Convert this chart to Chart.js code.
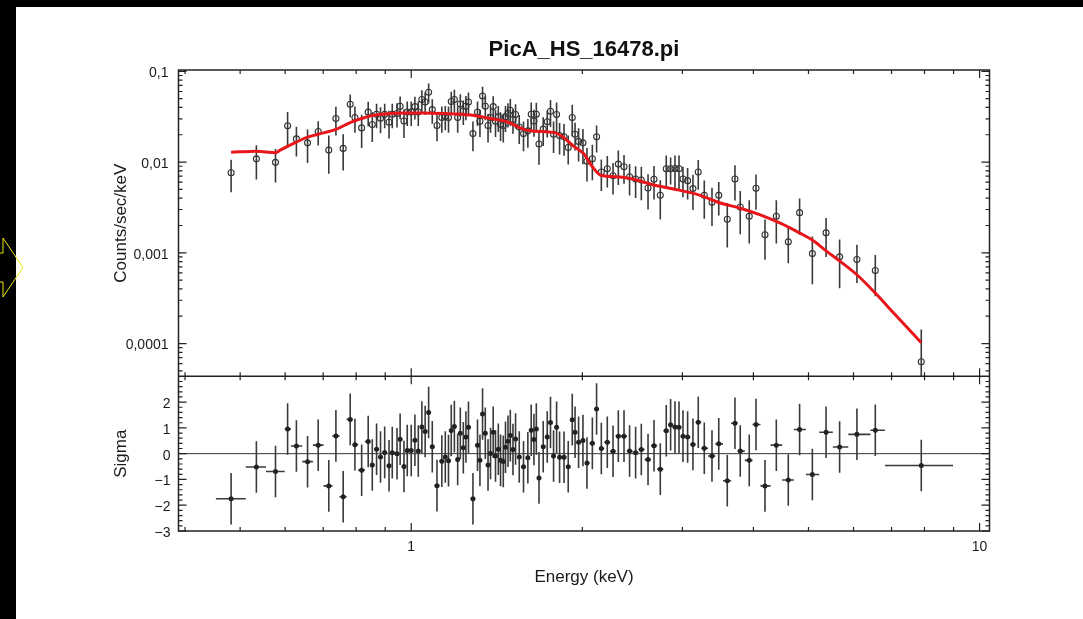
<!DOCTYPE html>
<html>
<head>
<meta charset="utf-8">
<script src="https://cdn.jsdelivr.net/npm/chart.js@4.4.1/dist/chart.umd.min.js"></script>
<style>
  html, body { margin: 0; padding: 0; background: #000; overflow: hidden; }
  #wrap { position: absolute; left: 16px; top: 7px; width: 1067px; height: 612px; background: #fff; }
  #arrow { position: absolute; left: 0; top: 0; }
</style>
</head>
<body>
<div id="wrap"><canvas id="chart" width="1067" height="612"></canvas></div>
<svg id="arrow" width="30" height="619"><polygon points="-2,253 3,253 3,238 23,267.5 3,297 3,282 -2,282" fill="none" stroke="#f0e600" stroke-width="1"/></svg>
<script>
// spectrum bins (keV)
const energy = [
  0.482, 0.534, 0.577, 0.606, 0.628, 0.657, 0.686, 0.716, 0.737, 0.759,
  0.781, 0.796, 0.818, 0.840, 0.854, 0.869, 0.883, 0.898, 0.914, 0.926,
  0.944, 0.956, 0.971, 0.984, 1.000, 1.015, 1.029, 1.044, 1.058, 1.073,
  1.089, 1.110, 1.132, 1.148, 1.163, 1.176, 1.191, 1.207, 1.220, 1.235,
  1.248, 1.261, 1.284, 1.308, 1.321, 1.335, 1.350, 1.365, 1.379, 1.394,
  1.407, 1.423, 1.436, 1.452, 1.465, 1.480, 1.494, 1.510, 1.526, 1.549,
  1.576, 1.604, 1.626, 1.644, 1.660, 1.678, 1.707, 1.735, 1.758, 1.780,
  1.802, 1.824, 1.857, 1.889, 1.920, 1.942, 1.970, 2.005, 2.038, 2.083,
  2.119, 2.160, 2.213, 2.265, 2.314, 2.368, 2.422, 2.482, 2.540, 2.610,
  2.674, 2.743, 2.810, 2.860, 2.911, 2.959, 3.007, 3.064, 3.131, 3.199,
  3.278, 3.382, 3.476, 3.598, 3.712, 3.792, 3.933, 4.042, 4.192, 4.389,
  4.607, 4.823, 5.079, 5.369, 5.672, 6.084, 6.554, 7.896
];
const binEdges = [
  0.4532, 0.5115, 0.5553, 0.5990, 0.6142, 0.6430, 0.6714, 0.7010, 0.7267, 0.7478,
  0.7698, 0.7885, 0.8066, 0.8287, 0.8469, 0.8612, 0.8758, 0.8902, 0.9056, 0.9198,
  0.9348, 0.9500, 0.9636, 0.9774, 0.9919, 1.0076, 1.0219, 1.0366, 1.0513, 1.0654,
  1.0807, 1.0992, 1.1211, 1.1400, 1.1555, 1.1695, 1.1832, 1.1985, 1.2131, 1.2274,
  1.2416, 1.2548, 1.2728, 1.2961, 1.3147, 1.3281, 1.3424, 1.3572, 1.3720, 1.3868,
  1.4009, 1.4151, 1.4295, 1.4441, 1.4588, 1.4723, 1.4866, 1.5017, 1.5178, 1.5375,
  1.5625, 1.5905, 1.6155, 1.6350, 1.6517, 1.6685, 1.6925, 1.7212, 1.7468, 1.7695,
  1.7906, 1.8127, 1.8401, 1.8730, 1.9048, 1.9308, 1.9554, 1.9876, 2.0218, 2.0600,
  2.1007, 2.1393, 2.1862, 2.2387, 2.2893, 2.3410, 2.3950, 2.4519, 2.5107, 2.5744,
  2.6415, 2.7082, 2.7763, 2.8351, 2.8851, 2.9346, 2.9830, 3.0350, 3.0972, 3.1645,
  3.2382, 3.3290, 3.4285, 3.5365, 3.6541, 3.7521, 3.8621, 3.9866, 4.1161, 4.2886,
  4.4947, 4.7135, 4.9477, 5.2229, 5.5182, 5.8749, 6.424, 6.815, 8.980
];
// counts/sec/keV
const counts = [
  0.00764, 0.01086, 0.00993, 0.0251, 0.0180, 0.0163, 0.0217, 0.01355, 0.0302, 0.01416,
  0.0434, 0.0310, 0.0238, 0.0355, 0.0260, 0.0337, 0.0305, 0.0337, 0.0275, 0.0337,
  0.0343, 0.0412, 0.0284, 0.0357, 0.0357, 0.0409, 0.0357, 0.0489, 0.0460, 0.0588,
  0.0379, 0.0253, 0.0310, 0.0320, 0.0310, 0.0465, 0.0489, 0.0310, 0.0437, 0.0366,
  0.0412, 0.0460, 0.0206, 0.0357, 0.0282, 0.0536, 0.0412, 0.0253, 0.0310, 0.0409,
  0.0282, 0.0315, 0.0262, 0.0253, 0.0315, 0.0343, 0.0373, 0.0294, 0.0334, 0.0244,
  0.0206, 0.0221, 0.0337, 0.0284, 0.0337, 0.0158, 0.0231, 0.0278, 0.0363, 0.0203,
  0.0334, 0.0196, 0.0190, 0.0145, 0.0310, 0.0203, 0.0169, 0.0163, 0.0102, 0.0109,
  0.0190, 0.00776, 0.00844, 0.00708, 0.0095, 0.00888, 0.0069, 0.0065, 0.00634, 0.00518,
  0.00646, 0.00431, 0.00844, 0.00844, 0.0085, 0.00844, 0.0065, 0.00624, 0.0051, 0.00776,
  0.00431, 0.0036, 0.0043, 0.00234, 0.0065, 0.0032, 0.00253, 0.00514, 0.00158, 0.00253,
  0.00132, 0.00277, 0.00098, 0.00166, 0.000903, 0.000845, 0.000639, 0.000063
];
// 1-sigma error as fraction of the value
const relErr = [
  0.39, 0.41, 0.40, 0.42, 0.36, 0.40, 0.30, 0.45, 0.35, 0.43,
  0.28, 0.32, 0.40, 0.30, 0.36, 0.30, 0.32, 0.30, 0.34, 0.30,
  0.30, 0.28, 0.35, 0.30, 0.30, 0.28, 0.30, 0.27, 0.28, 0.25,
  0.30, 0.33, 0.32, 0.30, 0.32, 0.28, 0.28, 0.32, 0.28, 0.30,
  0.30, 0.27, 0.36, 0.30, 0.33, 0.26, 0.30, 0.35, 0.32, 0.30,
  0.33, 0.32, 0.35, 0.35, 0.32, 0.30, 0.33, 0.30, 0.30, 0.35,
  0.36, 0.35, 0.35, 0.33, 0.34, 0.41, 0.35, 0.33, 0.33, 0.38,
  0.36, 0.38, 0.38, 0.35, 0.38, 0.34, 0.40, 0.42, 0.40, 0.42,
  0.33, 0.38, 0.38, 0.38, 0.41, 0.35, 0.38, 0.38, 0.40, 0.42,
  0.40, 0.46, 0.40, 0.33, 0.39, 0.40, 0.37, 0.38, 0.42, 0.36,
  0.45, 0.45, 0.40, 0.51, 0.42, 0.50, 0.50, 0.42, 0.47, 0.50,
  0.42, 0.43, 0.54, 0.46, 0.55, 0.45, 0.48, 1.27
];
// residuals (data-model)/error
const sigma = [
  -1.75, -0.52, -0.69, 0.96, 0.30, -0.31, 0.33, -1.25, 0.69, -1.67,
  1.33, 0.35, -0.64, 0.47, -0.44, 0.17, -0.13, 0.05, -0.47, 0.04,
  0.00, 0.56, -0.50, 0.12, 0.12, 0.52, 0.10, 1.03, 0.86, 1.60,
  0.27, -1.24, -0.29, -0.13, -0.27, 0.90, 1.05, -0.23, 0.79, 0.23,
  0.65, 1.02, -1.75, 0.33, -0.26, 1.54, 0.79, -0.44, 0.01, 0.83,
  -0.09, 0.17, -0.26, -0.30, 0.25, 0.48, 0.70, 0.16, 0.57, -0.13,
  -0.51, -0.16, 0.91, 0.55, 0.96, -0.94, 0.27, 0.65, 1.21, -0.09,
  1.02, -0.14, -0.14, -0.51, 1.32, 0.83, 0.44, 0.51, -0.36, 0.40,
  1.73, 0.20, 0.44, 0.09, 0.68, 0.68, 0.10, 0.04, 0.16, -0.23,
  0.31, -0.60, 0.89, 1.12, 1.03, 1.02, 0.68, 0.65, 0.36, 1.22,
  0.21, -0.09, 0.38, -1.05, 1.18, 0.10, -0.26, 1.13, -1.25, 0.33,
  -1.02, 0.94, -0.81, 0.83, 0.26, 0.75, 0.91, -0.46
];
// fitted model
const modelEnergy = [
  0.482, 0.534, 0.577, 0.588, 0.629, 0.655, 0.686, 0.737, 0.781, 0.818,
  0.858, 0.918, 0.969, 1.051, 1.140, 1.270, 1.377, 1.474, 1.566, 1.620,
  1.792, 1.842, 1.930, 2.010, 2.080, 2.151, 2.270, 2.428, 2.670, 2.894,
  3.225, 3.498, 3.793, 4.113, 4.460, 4.836, 5.071, 5.390, 5.686, 6.084,
  6.554, 7.060, 7.896
];
const modelValue = [
  0.0128, 0.0132, 0.0127, 0.01355, 0.0167, 0.0187, 0.0203, 0.0229, 0.0273, 0.0302,
  0.0328, 0.0343, 0.0348, 0.0348, 0.0343, 0.0330, 0.0302, 0.0278, 0.0234, 0.0221,
  0.0210, 0.0193, 0.0150, 0.0124, 0.0090, 0.0072, 0.0069, 0.0066, 0.0056, 0.00506,
  0.00430, 0.00354, 0.0031, 0.00262, 0.00212, 0.00164, 0.00139, 0.00103, 0.000804, 0.000573,
  0.00036, 0.000217, 0.000102
];
// axes
const xTicks = [1, 10];
const xTickText = ['1', '10'];
const xMinor = [0.4, 0.5, 0.6, 0.7, 0.8, 0.9, 2, 3, 4, 5, 6, 7, 8, 9];
const yTicks = [1e-4, 1e-3, 1e-2, 1e-1];
const yTickText = ['0,0001', '0,001', '0,01', '0,1'];
const yMinor = [5e-5, 6e-5, 7e-5, 8e-5, 9e-5, 2e-4, 3e-4, 4e-4, 5e-4, 6e-4, 7e-4, 8e-4, 9e-4,
  2e-3, 3e-3, 4e-3, 5e-3, 6e-3, 7e-3, 8e-3, 9e-3, 2e-2, 3e-2, 4e-2, 5e-2, 6e-2, 7e-2, 8e-2, 9e-2];
const sigTicks = [-3, -2, -1, 0, 1, 2];
const sigTickText = ['\u22123', '\u22122', '\u22121', '0', '1', '2'];
const sigMinor = [-2.8, -2.6, -2.4, -2.2, -1.8, -1.6, -1.4, -1.2, -0.8, -0.6, -0.4, -0.2,
  0.2, 0.4, 0.6, 0.8, 1.2, 1.4, 1.6, 1.8, 2.2, 2.4, 2.6, 2.8];

const INK = '#1a1a1a';
Chart.defaults.font.family = "'Liberation Sans', Arial, Helvetica, sans-serif";
Chart.defaults.color = INK;

const errorBars = {
  id: 'errorBars',
  beforeDatasetsDraw(chart) {
    const {ctx, scales: {x, y, ySig}} = chart;
    ctx.save();
    ctx.strokeStyle = '#3a3a3a';
    ctx.lineWidth = 1.6;
    ctx.beginPath();
    ctx.rect(x.left, y.top, x.right - x.left, y.bottom - y.top);
    ctx.clip();
    ctx.beginPath();
    energy.forEach((e, i) => {
      const px = x.getPixelForValue(e);
      const err = counts[i] * relErr[i];
      const lo = counts[i] - err > 0 ? y.getPixelForValue(counts[i] - err) : y.bottom;
      ctx.moveTo(px, y.getPixelForValue(counts[i] + err));
      ctx.lineTo(px, lo);
    });
    ctx.stroke();
    ctx.restore();

    ctx.save();
    ctx.beginPath();
    ctx.rect(x.left, ySig.top, x.right - x.left, ySig.bottom - ySig.top);
    ctx.clip();
    ctx.strokeStyle = '#333';
    ctx.lineWidth = 1;
    ctx.beginPath();
    const zero = ySig.getPixelForValue(0);
    ctx.moveTo(x.left, zero);
    ctx.lineTo(x.right, zero);
    ctx.stroke();
    ctx.strokeStyle = '#3a3a3a';
    ctx.lineWidth = 1.6;
    ctx.beginPath();
    energy.forEach((e, i) => {
      const px = x.getPixelForValue(e);
      const py = ySig.getPixelForValue(sigma[i]);
      ctx.moveTo(px, ySig.getPixelForValue(sigma[i] + 1));
      ctx.lineTo(px, ySig.getPixelForValue(sigma[i] - 1));
      ctx.moveTo(x.getPixelForValue(binEdges[i]), py);
      ctx.lineTo(x.getPixelForValue(binEdges[i + 1]), py);
    });
    ctx.stroke();
    ctx.restore();
  },
  afterDraw(chart) {
    const {ctx, chartArea: a, scales: {x, y, ySig}} = chart;
    ctx.save();
    ctx.strokeStyle = '#222';
    ctx.lineWidth = 1.2;
    ctx.beginPath();
    const edges = [[y.top, 1], [y.bottom, -1], [ySig.top, 1], [ySig.bottom, -1]];
    [[xTicks, 8], [xMinor, 4]].forEach(([vals, len]) => vals.forEach(v => {
      const px = x.getPixelForValue(v);
      edges.forEach(([ey, dir]) => { ctx.moveTo(px, ey); ctx.lineTo(px, ey + dir * len); });
    }));
    [[y, yTicks, yMinor], [ySig, sigTicks, sigMinor]].forEach(([s, maj, min]) => {
      [[maj, 8], [min, 4]].forEach(([vals, len]) => vals.forEach(v => {
        const py = s.getPixelForValue(v);
        ctx.moveTo(a.left, py); ctx.lineTo(a.left + len, py);
        ctx.moveTo(a.right, py); ctx.lineTo(a.right - len, py);
      }));
    });
    ctx.stroke();
    ctx.lineWidth = 1.5;
    ctx.strokeRect(a.left, a.top, a.right - a.left, a.bottom - a.top);
    ctx.beginPath();
    ctx.moveTo(a.left, y.bottom);
    ctx.lineTo(a.right, y.bottom);
    ctx.stroke();
    ctx.restore();
  }
};

const noGrid = {display: false, drawTicks: false};
const noBorder = {display: false};

new Chart(document.getElementById('chart'), {
  type: 'scatter',
  data: {
    datasets: [
      {
        type: 'line',
        label: 'model',
        data: modelEnergy.map((e, i) => ({x: e, y: modelValue[i]})),
        xAxisID: 'x', yAxisID: 'y',
        borderColor: '#e8161b',
        borderWidth: 3,
        pointRadius: 0,
        cubicInterpolationMode: 'monotone',
        fill: false
      },
      {
        label: 'data',
        data: energy.map((e, i) => ({x: e, y: counts[i]})),
        xAxisID: 'x', yAxisID: 'y',
        pointRadius: 3,
        borderWidth: 1.1,
        borderColor: '#333',
        backgroundColor: 'rgba(0,0,0,0)'
      },
      {
        label: 'residuals',
        data: energy.map((e, i) => ({x: e, y: sigma[i]})),
        xAxisID: 'x', yAxisID: 'ySig',
        pointRadius: 2.5,
        borderWidth: 0,
        backgroundColor: '#222'
      }
    ]
  },
  options: {
    responsive: false,
    animation: false,
    devicePixelRatio: 1,
    layout: {padding: {left: 77.5, right: 93.5, top: 0, bottom: 18}},
    plugins: {
      legend: {display: false},
      tooltip: {enabled: false},
      title: {
        display: true,
        text: 'PicA_HS_16478.pi',
        fullSize: false,
        color: '#111',
        font: {size: 22, weight: 'bold', lineHeight: 1.2},
        padding: {top: 30, bottom: 6.6}
      }
    },
    scales: {
      x: {
        type: 'logarithmic',
        position: 'bottom',
        min: 0.3895, max: 10.41,
        grid: noGrid, border: noBorder,
        afterBuildTicks: s => { s.ticks = xTicks.map(v => ({value: v})); },
        afterFit: s => { s.height = 70; },
        ticks: {autoSkip: false, maxRotation: 0, padding: 8, font: {size: 14},
          callback: v => xTickText[xTicks.indexOf(v)]},
        title: {display: true, text: 'Energy (keV)', font: {size: 17}, padding: {top: 0, bottom: 13}}
      },
      ySig: {
        type: 'linear',
        position: 'left',
        stack: 'panels',
        stackWeight: 154.5,
        min: -3, max: 3,
        grid: noGrid, border: noBorder,
        afterBuildTicks: s => { s.ticks = sigTicks.map(v => ({value: v})); },
        afterFit: s => { s.width = 85; },
        ticks: {autoSkip: false, padding: 8, font: {size: 14}, labelOffset: 2,
          callback: v => sigTickText[sigTicks.indexOf(v)]},
        title: {display: true, text: 'Sigma', font: {size: 17}, padding: {top: 18, bottom: 0}}
      },
      y: {
        type: 'logarithmic',
        position: 'left',
        stack: 'panels',
        stackWeight: 306,
        min: 4.35e-5, max: 0.1035,
        grid: noGrid, border: noBorder,
        afterBuildTicks: s => { s.ticks = yTicks.map(v => ({value: v})); },
        afterFit: s => { s.width = 85; },
        ticks: {autoSkip: false, padding: 10, font: {size: 14}, labelOffset: 2,
          callback: v => yTickText[yTicks.indexOf(v)]},
        title: {display: true, text: 'Counts/sec/keV', font: {size: 17}, padding: {top: 18, bottom: 0}}
      }
    }
  },
  plugins: [errorBars]
});
</script>
</body>
</html>
